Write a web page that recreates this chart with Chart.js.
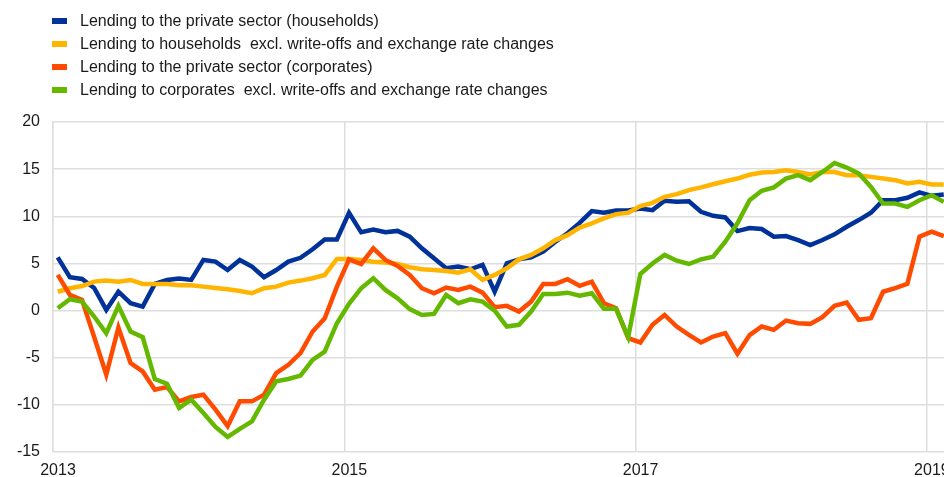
<!DOCTYPE html>
<html>
<head>
<meta charset="utf-8">
<script src="https://cdn.jsdelivr.net/npm/chart.js@4.4.1/dist/chart.umd.min.js"></script>
<style>
  html, body { margin: 0; padding: 0; background: #fff; overflow: hidden; }
  #wrap { width: 1000px; height: 477px; }
</style>
</head>
<body>
<div id="wrap"><canvas id="chart" width="1000" height="477"></canvas></div>
<script>
// monthly series, Jan 2013 onwards
const startYear = 2013;
const yearTicks = [2013, 2015, 2017, 2019];
const seriesNames = [
    'Lending to the private sector (households)',
    'Lending to households  excl. write-offs and exchange rate changes',
    'Lending to the private sector (corporates)',
    'Lending to corporates  excl. write-offs and exchange rate changes',
];
const seriesColors = ['#003299', '#ffb400', '#ff4b00', '#65b800'];

const households = [5.65,3.53,3.35,2.4,0.07,2.0,0.78,0.42,2.83,3.25,
    3.39,3.25,5.37,5.19,4.3,5.37,4.66,3.53,4.3,5.19,
    5.6,6.5,7.55,7.55,10.37,8.3,8.6,8.3,8.45,7.83,
    6.6,5.54,4.49,4.66,4.38,4.84,2.0,5.0,5.43,5.65,
    6.25,7.3,8.2,9.3,10.55,10.37,10.62,10.62,10.83,10.65,
    11.64,11.53,11.6,10.48,10.05,9.88,8.43,8.75,8.65,7.83,
    7.9,7.48,6.95,7.48,8.08,8.89,9.6,10.37,11.71,11.71,
    11.96,12.53,12.17,12.3];
const householdsAdj = [2.0,2.37,2.6,3.07,3.18,3.07,3.25,2.83,2.83,2.83,
    2.69,2.69,2.54,2.4,2.26,2.08,1.84,2.37,2.54,2.97,
    3.18,3.43,3.78,5.47,5.47,5.37,5.19,5.1,4.94,4.59,
    4.38,4.3,4.2,4.02,4.38,3.25,3.78,4.49,5.43,5.9,
    6.6,7.48,8.0,8.8,9.25,9.78,10.23,10.37,11.08,11.43,
    12.07,12.35,12.77,13.06,13.4,13.72,14.0,14.4,14.65,14.7,
    14.89,14.7,14.43,14.7,14.7,14.36,14.36,14.18,14.0,13.83,
    13.48,13.65,13.37,13.37];
const corporates = [3.78,1.66,1.13,-2.8,-6.8,-1.8,-5.57,-6.45,-8.39,-8.1,
    -9.63,-9.17,-8.92,-10.5,-12.25,-9.63,-9.63,-8.92,-6.63,-5.75,
    -4.51,-2.22,-0.81,2.54,5.43,4.94,6.6,5.37,4.73,3.78,
    2.37,1.84,2.43,2.19,2.54,1.9,0.36,0.5,-0.1,0.95,
    2.83,2.83,3.32,2.63,3.07,0.78,0.25,-2.92,-3.38,-1.51,
    -0.46,-1.69,-2.57,-3.38,-2.75,-2.4,-4.58,-2.6,-1.69,-2.04,
    -1.06,-1.34,-1.41,-0.7,0.5,0.85,-0.98,-0.81,2.0,2.37,
    2.83,7.83,8.36,7.9];
const corporatesAdj = [0.25,1.2,0.95,-0.63,-2.4,0.5,-2.22,-2.82,-7.26,-7.76,
    -10.33,-9.45,-10.86,-12.34,-13.4,-12.55,-11.75,-9.45,-7.5,-7.26,
    -6.9,-5.22,-4.34,-1.34,0.71,2.37,3.43,2.19,1.3,0.15,
    -0.46,-0.35,1.66,0.78,1.2,0.95,0.0,-1.69,-1.51,-0.1,
    1.77,1.77,1.9,1.57,1.84,0.18,0.18,-2.82,3.88,5.0,
    5.9,5.29,4.94,5.43,5.71,7.3,9.25,11.7,12.7,13.06,
    14.0,14.36,13.83,14.7,15.66,15.17,14.54,13.12,11.36,11.36,
    11.0,11.71,12.24,11.53];

const allSeries = [households, householdsAdj, corporates, corporatesAdj];

const toPoints = values => values.map((v, i) => ({ x: startYear + (i + 0.39) / 12, y: v }));

const font = { family: '"Liberation Sans", Arial, sans-serif', size: 16 };
const gridColor = '#dedede';

const legendPlugin = {
    id: 'rowLegend',
    afterDraw(chart) {
        const ctx = chart.ctx;
        ctx.save();
        ctx.font = `${font.size}px ${font.family}`;
        ctx.textBaseline = 'middle';
        chart.data.datasets.forEach((ds, i) => {
            const y = 21 + i * 23;
            ctx.fillStyle = ds.borderColor;
            ctx.fillRect(52, y - 3, 15, 6);
            ctx.fillStyle = '#1a1a1a';
            ctx.fillText(ds.label, 80, y + 1);
        });
        ctx.restore();
    },
};

new Chart(document.getElementById('chart'), {
    type: 'line',
    data: {
        datasets: allSeries.map((values, i) => ({
            label: seriesNames[i],
            data: toPoints(values),
            borderColor: seriesColors[i],
            backgroundColor: seriesColors[i],
            borderWidth: 4.5,
            pointRadius: 0,
            tension: 0,
            order: allSeries.length - i,
        })),
    },
    options: {
        responsive: false,
        animation: false,
        devicePixelRatio: 1,
        layout: { padding: { top: 122, right: 20, left: 0, bottom: 0 } },
        plugins: {
            legend: { display: false },
            tooltip: { enabled: false },
        },
        scales: {
            x: {
                type: 'linear',
                min: startYear,
                max: startYear + (980 - 53) / 145.65,
                afterBuildTicks: scale => {
                    scale.ticks = yearTicks.map(v => ({ value: v }));
                },
                afterFit: scale => { scale.height = 25; },
                grid: { color: gridColor, lineWidth: 1.5, drawTicks: false },
                border: { display: false },
                ticks: {
                    font,
                    color: '#1a1a1a',
                    padding: 9,
                    labelOffset: 5,
                    maxRotation: 0,
                    autoSkip: false,
                    callback: v => String(v),
                },
            },
            y: {
                min: -15,
                max: 20,
                afterFit: scale => { scale.width = 53; },
                grid: { color: gridColor, lineWidth: 1.5, drawTicks: false },
                border: { display: true, color: gridColor, width: 1.5 },
                ticks: {
                    stepSize: 5,
                    font,
                    color: '#1a1a1a',
                    padding: 13,
                },
            },
        },
    },
    plugins: [legendPlugin],
});
</script>
</body>
</html>
